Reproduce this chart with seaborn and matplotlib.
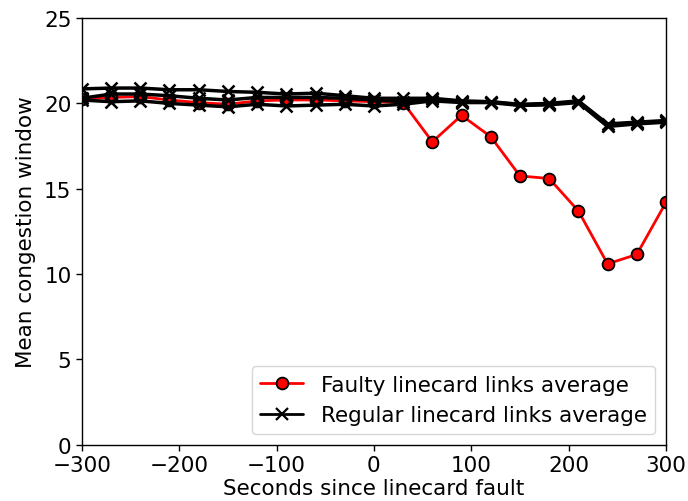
import matplotlib
matplotlib.use("Agg")
import matplotlib.pyplot as plt
import seaborn as sns
from matplotlib.lines import Line2D

seconds = [-300, -270, -240, -210, -180, -150, -120, -90, -60, -30, 0, 30,
           60, 90, 120, 150, 180, 210, 240, 270, 300]

faulty_avg = [20.25, 20.35, 20.4, 20.2, 20.05, 19.95, 20.15, 20.2, 20.2, 20.15, 20.1, 20.05,
              17.75, 19.3, 18.05, 15.75, 15.6, 13.7, 10.6, 11.15, 14.2]

regular_a = [20.85, 20.9, 20.9, 20.8, 20.8, 20.7, 20.65, 20.55, 20.6, 20.45, 20.3, 20.3,
             20.3, 20.15, 20.1, 19.95, 20.0, 20.15, 18.8, 18.9, 19.0]
regular_b = [20.3, 20.55, 20.55, 20.45, 20.3, 20.2, 20.35, 20.35, 20.35, 20.3, 20.2, 20.1,
             20.25, 20.1, 20.1, 19.9, 19.95, 20.1, 18.7, 18.85, 18.95]
regular_c = [20.2, 20.1, 20.15, 20.0, 19.9, 19.8, 19.95, 19.85, 19.9, 19.95, 19.85, 19.95,
             20.15, 20.05, 20.05, 19.88, 19.92, 20.05, 18.65, 18.8, 18.9]

xticks = [-300, -200, -100, 0, 100, 200, 300]
yticks = [0, 5, 10, 15, 20, 25]

sns.set_style("ticks")
plt.rcParams['font.family'] = ['DejaVu Sans']
plt.rcParams['text.color'] = 'black'
plt.rcParams['axes.labelcolor'] = 'black'
plt.rcParams['xtick.color'] = 'black'
plt.rcParams['ytick.color'] = 'black'
plt.rcParams['axes.edgecolor'] = 'black'

FS = 15.5

fig = plt.figure(figsize=(6.88, 5.02), dpi=100)
ax = fig.add_axes([0.119, 0.112, 0.849, 0.850])

sns.lineplot(x=seconds, y=faulty_avg, ax=ax, color="red", marker="o", markersize=8.5,
             markeredgecolor="black", markeredgewidth=1.3, linewidth=2.0,
             label="_nolegend_", zorder=2)

for series in (regular_a, regular_b, regular_c):
    sns.lineplot(x=seconds, y=series, ax=ax, color="black", marker="x", markersize=9,
                 markeredgecolor="black", markeredgewidth=1.8, linewidth=2.5,
                 label="_nolegend_", zorder=3)

ax.set_xlim(-300, 300)
ax.set_ylim(0, 25)
ax.set_xticks(xticks)
ax.set_yticks(yticks)
ax.set_xticklabels([f"{t}".replace("-", "\u2212") for t in xticks])
ax.tick_params(labelsize=FS, direction="out", length=4, width=1)
ax.set_xlabel("Seconds since linecard fault", fontsize=FS, labelpad=2)
ax.set_ylabel("Mean congestion window", fontsize=FS, labelpad=6)
for s in ax.spines.values():
    s.set_visible(True)
    s.set_linewidth(1.0)

h_f = Line2D([], [], color="red", marker="o", markersize=8.5, markeredgecolor="black",
             markeredgewidth=1.3, linewidth=2.0)
h_r = Line2D([], [], color="black", marker="x", markersize=8, markeredgewidth=1.6, linewidth=2.0)
ax.legend([h_f, h_r], ["Faulty linecard links average", "Regular linecard links average"],
          loc="lower right", fontsize=FS, frameon=True, framealpha=0.8, edgecolor="#cccccc",
          fancybox=True)

fig.savefig("out.png", dpi=100)
